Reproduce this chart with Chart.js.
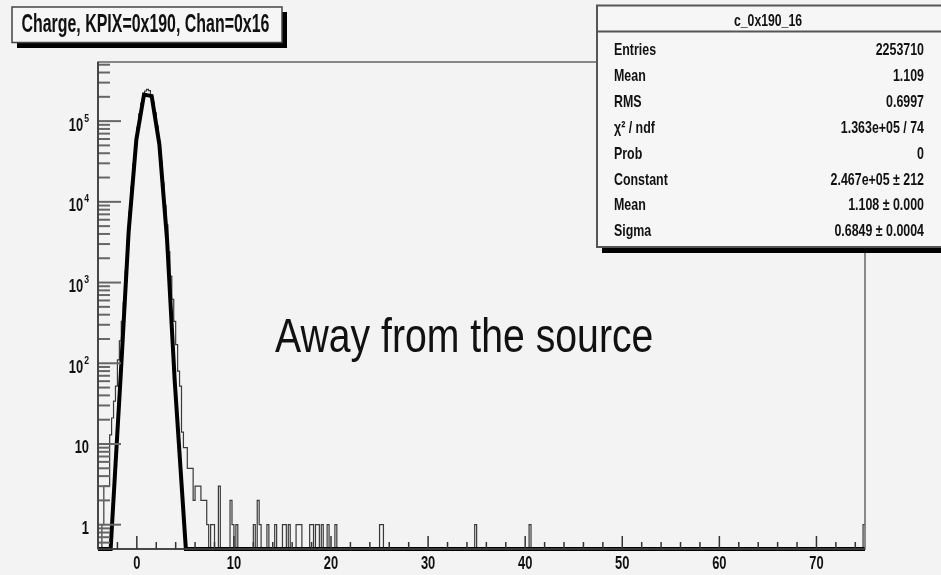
<!DOCTYPE html>
<html>
<head>
<meta charset="utf-8">
<script src="https://cdn.jsdelivr.net/npm/chart.js@4.4.0/dist/chart.umd.min.js"></script>
<style>
  html, body { margin: 0; padding: 0; background: #f3f3f3; }
  canvas { display: block; }
</style>
</head>
<body>
<canvas id="chargeHist" width="941" height="575"></canvas>
<script>
// histogram range and binning
const xMin = -4, xMax = 75, binWidth = 0.2;
const yMin = 0.5, yMax = 5.4e5;

// low edge of each filled bin and its entries
const binLow = [
  -3.6, -3.4, -3.2, -3.0, -2.8, -2.6, -2.4, -2.2, -2.0, -1.8, -1.6, -1.4, -1.2, -1.0, -0.8, -0.6, -0.4, -0.2,
  0.0, 0.2, 0.4, 0.6, 0.8, 1.0, 1.2, 1.4, 1.6, 1.8, 2.0, 2.2, 2.4, 2.6, 2.8,
  3.0, 3.2, 3.4, 3.6, 3.8, 4.0, 4.2, 4.4, 4.6, 4.8, 5.0, 5.2, 5.4, 5.6, 5.8,
  6.0, 6.2, 6.4, 6.6, 6.8, 7.0, 7.2, 7.6, 7.8, 8.4, 9.6, 9.8, 10.2,
  12.0, 12.4, 12.6, 13.4, 14.2, 15.0, 15.2, 15.6, 16.4, 16.6, 16.8,
  17.8, 18.0, 18.4, 18.6, 19.0, 19.6, 20.4, 25.0, 25.2, 34.8, 40.4, 74.8
];
const binCount = [
  1, 3, 3, 3, 13, 21, 34, 52, 110, 190, 330, 560, 1400, 3350, 7550, 15600, 29800, 52000,
  83500, 123000, 166000, 207000, 236000, 248000, 238000, 210000, 171000, 127000, 87000, 55000, 32000, 17000, 9000,
  5200, 2400, 1200, 620, 330, 170, 80, 52, 14, 9, 9, 5, 5, 5, 2,
  3, 3, 3, 2, 2, 2, 1, 1, 1, 3, 2, 1, 1,
  1, 2, 1, 1, 1, 1, 1, 1, 1, 1, 1,
  1, 1, 1, 1, 1, 1, 1, 1, 1, 1, 1, 1
];

// gaus fit as painted: polyline vertices, values under the floor sit on it
const fitX = [-4, -2.7, -1.63, -0.84, -0.05, 0.74, 1.53, 2.32, 3.11, 3.90, 5.05, 75];
const fitY = [0.5, 0.5, 83, 4320, 59100, 213500, 204000, 51600, 3440, 61, 0.5, 0.5];

// axis labels
const xLabels = [0, 10, 20, 30, 40, 50, 60, 70];
const yLabelValues = [1, 10, 100, 1000, 1e4, 1e5];
const yLabelBase = ['1', '10', '10', '10', '10', '10'];
const yLabelExp = ['', '', '2', '3', '4', '5'];

// stats box
const statsTitle = 'c_0x190_16';
const statNames = ['Entries', 'Mean', 'RMS', 'χ² / ndf', 'Prob', 'Constant', 'Mean', 'Sigma'];
const statValues = ['2253710', '1.109', '0.6997', '1.363e+05 / 74', '0', '2.467e+05 ± 212', '1.108 ± 0.000', '0.6849 ± 0.0004'];

const histTitle = 'Charge, KPIX=0x190, Chan=0x16';
const note = 'Away from the source';

// step outline of the histogram, empty bins drawn on the floor
function histOutline() {
  const nBins = Math.round((xMax - xMin) / binWidth);
  const counts = new Array(nBins).fill(0);
  binLow.forEach((lo, i) => { counts[Math.round((lo - xMin) / binWidth)] = binCount[i]; });
  const pts = [];
  counts.forEach((c, i) => {
    const lo = xMin + i * binWidth, hi = lo + binWidth;
    const v = c > 0 ? c : yMin;
    pts.push({ x: lo, y: v }, { x: hi, y: v });
  });
  return pts;
}

const FONT = "'Liberation Sans', Arial, sans-serif";

function drawText(ctx, str, x, y, size, bold, sx, align) {
  ctx.save();
  ctx.font = (bold ? 'bold ' : '') + size + 'px ' + FONT;
  ctx.translate(x, y);
  ctx.scale(sx, 1);
  ctx.textAlign = align || 'left';
  ctx.textBaseline = 'alphabetic';
  ctx.fillStyle = '#111';
  ctx.fillText(str, 0, 0);
  ctx.restore();
}

function textWidth(ctx, str, size, bold, sx) {
  ctx.save();
  ctx.font = (bold ? 'bold ' : '') + size + 'px ' + FONT;
  const w = ctx.measureText(str).width * sx;
  ctx.restore();
  return w;
}

function seg(ctx, x1, y1, x2, y2) {
  ctx.beginPath();
  ctx.moveTo(x1, y1);
  ctx.lineTo(x2, y2);
  ctx.stroke();
}

const rootStyle = {
  id: 'rootStyle',
  beforeDraw(chart) {
    const ctx = chart.ctx;
    ctx.save();
    ctx.fillStyle = '#f3f3f3';
    ctx.fillRect(0, 0, chart.width, chart.height);
    ctx.restore();
  },
  afterDatasetsDraw(chart) {
    const { ctx, chartArea: a, scales: { x, y } } = chart;
    ctx.save();

    // frame
    ctx.strokeStyle = '#666';
    ctx.lineWidth = 1.5;
    ctx.strokeRect(a.left, a.top, a.right - a.left, a.bottom - a.top);

    // x axis ticks: major every 10, minor every 2
    ctx.strokeStyle = '#333';
    ctx.lineWidth = 1.5;
    for (let v = -2; v < xMax; v += 2) {
      const px = x.getPixelForValue(v);
      seg(ctx, px, a.bottom, px, a.bottom - (v % 10 === 0 ? 13 : 7));
    }
    seg(ctx, a.left, a.bottom, a.right, a.bottom);

    // y axis ticks, log decades
    ctx.strokeStyle = '#666';
    ctx.lineWidth = 2;
    for (let k = -1; k <= 5; k++) {
      for (let m = 1; m <= 9; m++) {
        const v = m * Math.pow(10, k);
        if (v <= yMin || v >= yMax) continue;
        const py = y.getPixelForValue(v);
        seg(ctx, a.left, py, a.left + (m === 1 ? 23 : 12), py);
      }
    }
    ctx.strokeStyle = '#333';
    ctx.lineWidth = 1.5;
    seg(ctx, a.left, a.top, a.left, a.bottom);

    // tick labels
    xLabels.forEach(v => {
      drawText(ctx, String(v), x.getPixelForValue(v), a.bottom + 19.5, 19, true, 0.68, 'center');
    });
    yLabelValues.forEach((v, i) => {
      const py = y.getPixelForValue(v);
      const right = 89;
      const ew = yLabelExp[i] ? textWidth(ctx, yLabelExp[i], 11.5, true, 0.75) + 1 : 0;
      drawText(ctx, yLabelBase[i], right - ew, py + 9.5, 19, true, 0.68, 'right');
      if (yLabelExp[i]) drawText(ctx, yLabelExp[i], right - ew + 1, py + 0.5, 11.5, true, 0.75, 'left');
    });

    // annotation
    drawText(ctx, note, 275, 352, 49, false, 0.8, 'left');
    ctx.restore();
  },
  afterDraw(chart) {
    const ctx = chart.ctx;
    ctx.save();

    // title box with drop shadow
    ctx.fillStyle = '#000';
    ctx.fillRect(17, 12, 270, 36);
    ctx.fillStyle = '#f6f6f6';
    ctx.fillRect(12, 7, 270, 35.5);
    ctx.strokeStyle = '#444';
    ctx.lineWidth = 1.5;
    ctx.strokeRect(12, 7, 270, 35.5);
    drawText(ctx, histTitle, 21.5, 31.5, 25, true, 0.637, 'left');

    // stats box with drop shadow
    const bx = 597, by = 5.5, bw = 360, bh = 241.5;
    ctx.fillStyle = '#000';
    ctx.fillRect(bx + 5, by + 5, bw, bh + 1);
    ctx.fillStyle = '#f6f6f6';
    ctx.fillRect(bx, by, bw, bh);
    ctx.strokeStyle = '#555';
    ctx.lineWidth = 2;
    ctx.strokeRect(bx, by, bw, bh);
    seg(ctx, bx, 31.5, bx + bw, 31.5);
    drawText(ctx, statsTitle, 768, 26, 17, true, 0.72, 'center');
    statNames.forEach((name, i) => {
      const base = 55 + 25.9 * i;
      drawText(ctx, name, 614, base, 17, true, 0.73, 'left');
      drawText(ctx, statValues[i], 924, base, 17, true, 0.73, 'right');
    });
    ctx.restore();
  }
};

new Chart(document.getElementById('chargeHist'), {
  type: 'scatter',
  data: {
    datasets: [
      {
        label: 'c_0x190_16',
        data: histOutline(),
        showLine: true,
        borderColor: '#3a3a3a',
        borderWidth: 1.2,
        pointRadius: 0,
        tension: 0,
        order: 2
      },
      {
        label: 'gaus',
        data: fitX.map((v, i) => ({ x: v, y: fitY[i] })),
        showLine: true,
        borderColor: '#000',
        borderWidth: 4,
        pointRadius: 0,
        tension: 0,
        clip: { left: 0, top: 0, right: 0, bottom: 2 },
        order: 1
      }
    ]
  },
  options: {
    responsive: false,
    animation: false,
    layout: { padding: { left: 98, top: 62, right: 76, bottom: 26 } },
    scales: {
      x: { type: 'linear', min: xMin, max: xMax, display: false },
      y: { type: 'logarithmic', min: yMin, max: yMax, display: false }
    },
    plugins: {
      legend: { display: false },
      tooltip: { enabled: false }
    }
  },
  plugins: [rootStyle]
});
</script>
</body>
</html>
